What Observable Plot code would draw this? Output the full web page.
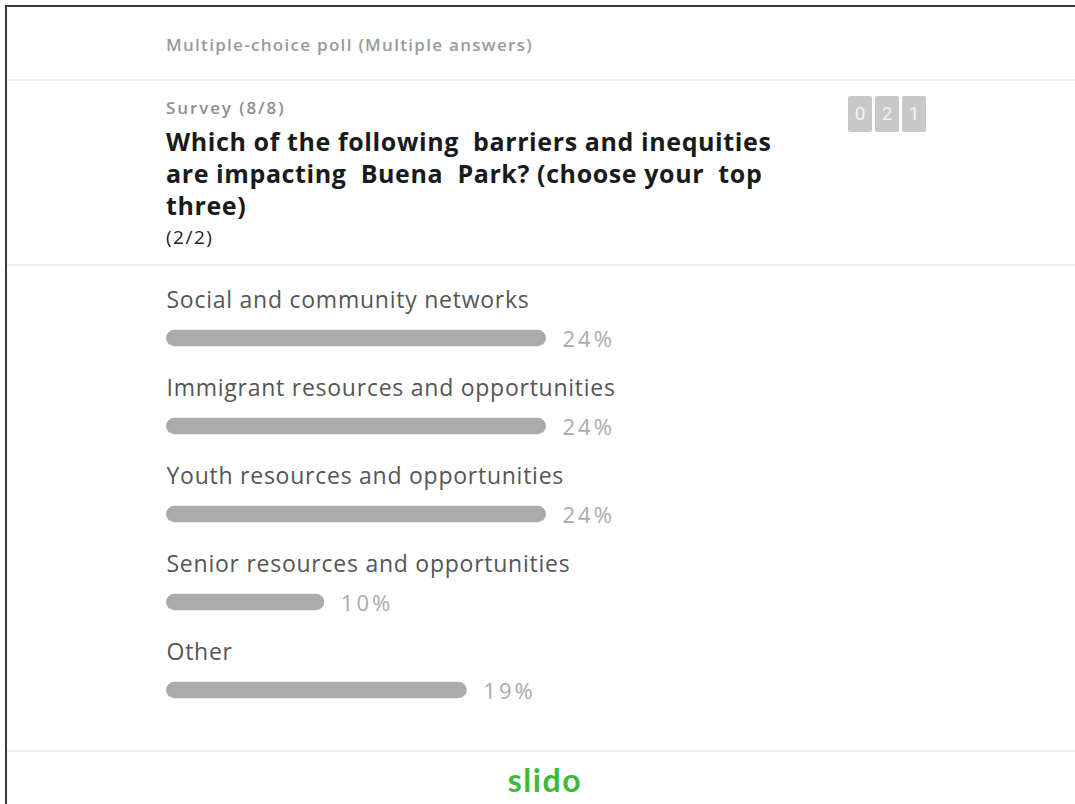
<!DOCTYPE html>
<html>
<head>
<meta charset="utf-8">
<script src="https://cdn.jsdelivr.net/npm/d3@7"></script>
<script src="https://cdn.jsdelivr.net/npm/@observablehq/plot@0.6"></script>
<style>
  html, body { margin: 0; padding: 0; background: #fff; }
  body { width: 1075px; height: 804px; position: relative; overflow: hidden; font-family: "Open Sans", sans-serif; }
  .border-top { position: absolute; left: 5px; top: 5px; width: 1070px; height: 2px; background: #3a3a3a; }
  .border-left { position: absolute; left: 5px; top: 5px; width: 2px; height: 799px; background: #3a3a3a; }
  .sep { position: absolute; left: 7px; width: 1068px; height: 2px; background: #e9f0f8; }
  .hdr { position: absolute; left: 166px; top: 34px; font-size: 17px; line-height: 22px; color: #9a9a9a; font-weight: 600; letter-spacing: 1.3px; }
  .survey { position: absolute; left: 166px; top: 97px; font-size: 17px; line-height: 22px; color: #8e8e8e; font-weight: 600; letter-spacing: 1.9px; }
  .title { position: absolute; left: 166px; top: 125px; font-size: 25px; line-height: 32px; color: #1a1a1a; font-weight: 700; letter-spacing: 0.6px; white-space: pre; }
  .part { position: absolute; left: 166px; top: 224px; font-size: 19px; line-height: 26px; color: #222; letter-spacing: 1.5px; }
  .counter { position: absolute; top: 96px; width: 24px; height: 36px; background: #c8c8c8; border-radius: 2px; color: #f4f4f4; font-family: Roboto, sans-serif; font-size: 19px; line-height: 36px; text-align: center; }
  .slido { position: absolute; left: 0; width: 1090px; top: 761px; text-align: center; font-family: Lato, sans-serif; font-weight: 700; font-size: 32px; line-height: 38px; color: #3db83f; letter-spacing: 1.6px; }
  #chart { position: absolute; left: 0; top: 266px; }
</style>
</head>
<body>
<div class="border-top"></div>
<div class="border-left"></div>
<div class="hdr">Multiple-choice poll (Multiple answers)</div>
<div class="sep" style="top:79px"></div>
<div class="survey">Survey (8/8)</div>
<div class="title">Which of the following  barriers and inequities
are impacting  Buena  Park? (choose your  top
three)</div>
<div class="part">(2/2)</div>
<div class="counter" style="left:848px">0</div>
<div class="counter" style="left:875px">2</div>
<div class="counter" style="left:902px">1</div>
<div class="sep" style="top:264px"></div>
<div id="chart"></div>
<div class="sep" style="top:750px"></div>
<div class="slido">slido</div>
<script>
const categories = [
  "Social and community networks",
  "Immigrant resources and opportunities",
  "Youth resources and opportunities",
  "Senior resources and opportunities",
  "Other"
];
const percents = [24, 24, 24, 10, 19];

const data = categories.map((c, i) => ({category: c, value: percents[i], label: percents[i] + "%"}));

const chart = Plot.plot({
  width: 1075,
  height: 485,
  margin: 0,
  style: {background: "transparent", overflow: "visible"},
  x: {domain: [0, 24], range: [166, 546], axis: null},
  y: {type: "band", domain: categories, range: [26.75, 469.25], padding: 0, axis: null},
  marks: [
    Plot.barX(data, {
      x1: 0, x2: "value", y: "category",
      fill: "#ababab", rx: 8.5, insetTop: 35.75, insetBottom: 35.75
    }),
    Plot.text(data, {
      x: 0, y: "category", text: "category", dy: -38, dx: 0,
      textAnchor: "start", fill: "#555", fontSize: 23,
      fontFamily: "Open Sans, sans-serif"
    }),
    Plot.text(data, {
      x: "value", y: "category", text: "label", dx: 16, dy: 1,
      textAnchor: "start", fill: "#a9abb0", fontSize: 22,
      fontFamily: "Open Sans, sans-serif"
    })
  ]
});
const textGroups = chart.querySelectorAll('g[aria-label="text"]');
if (textGroups[0]) textGroups[0].style.letterSpacing = "0.75px";
if (textGroups[1]) textGroups[1].style.letterSpacing = "3px";
document.getElementById("chart").appendChild(chart);
</script>
</body>
</html>
